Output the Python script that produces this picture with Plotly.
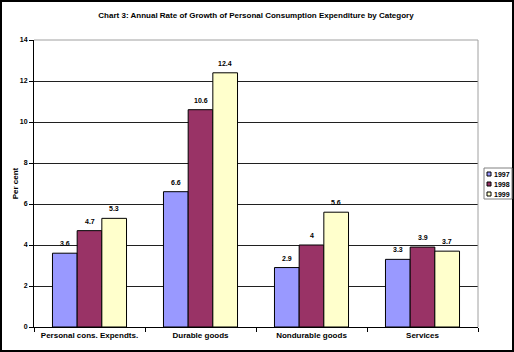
import plotly.graph_objects as go

categories = ["Personal cons. Expendts.", "Durable goods", "Nondurable goods", "Services"]
series_names = ["1997", "1998", "1999"]
values_1997 = [3.6, 6.6, 2.9, 3.3]
values_1998 = [4.7, 10.6, 4.0, 3.9]
values_1999 = [5.3, 12.4, 5.6, 3.7]
labels_1997 = ["3.6", "6.6", "2.9", "3.3"]
labels_1998 = ["4.7", "10.6", "4", "3.9"]
labels_1999 = ["5.3", "12.4", "5.6", "3.7"]
y_ticks = [0, 2, 4, 6, 8, 10, 12, 14]

colors = ["#9999FF", "#993366", "#FFFFCC"]
series = [values_1997, values_1998, values_1999]
labels = [labels_1997, labels_1998, labels_1999]

FONT = "Liberation Sans, Arial, sans-serif"
BARGAP = 0.333

L, R, T, B = 34, 36, 40, 25
W, H = 514, 352
pw, ph = W - L - R, H - T - B
bar_px = pw / len(categories) * (1 - BARGAP) / len(series)

def px_x(x):
    return (x - L) / pw

def px_y(y):
    return (H - B - y) / ph

fig = go.Figure()
annotations = []
for i, (name, vals, lab, col) in enumerate(zip(series_names, series, labels, colors)):
    fig.add_trace(go.Bar(
        name=name, x=categories, y=vals,
        marker=dict(color=col, line=dict(color="black", width=1)),
    ))
    for c, v, t in zip(categories, vals, lab):
        annotations.append(dict(text="<b>" + t + "</b>", x=c, y=v, xref="x", yref="y",
                                xshift=(i - 1) * bar_px, yshift=4,
                                xanchor="center", yanchor="bottom", showarrow=False,
                                font=dict(family=FONT, size=7, color="black")))

shapes = [
    dict(type="line", xref="paper", yref="paper", x0=0, x1=1, y0=1, y1=1,
         line=dict(color="#A0A0A0", width=1)),
    dict(type="line", xref="paper", yref="paper", x0=1, x1=1, y0=0, y1=1,
         line=dict(color="#A0A0A0", width=1)),
    dict(type="rect", xref="paper", yref="paper",
         x0=px_x(1), x1=px_x(W - 1), y0=px_y(H - 1), y1=px_y(1),
         line=dict(color="black", width=2), layer="above"),
    dict(type="rect", xref="paper", yref="paper",
         x0=px_x(484), x1=px_x(512), y0=px_y(199), y1=px_y(168),
         line=dict(color="#808080", width=1), fillcolor="white", layer="above"),
]
row_y = [174, 184, 194]
for name, col, ry in zip(series_names, colors, row_y):
    shapes.append(dict(type="rect", xref="paper", yref="paper",
                       x0=px_x(487), x1=px_x(491), y0=px_y(ry + 2), y1=px_y(ry - 2),
                       line=dict(color="black", width=1), fillcolor=col, layer="above"))
    annotations.append(dict(text="<b>" + name + "</b>", xref="paper", yref="paper",
                            x=px_x(492), y=px_y(ry), xanchor="left", yanchor="middle",
                            showarrow=False, font=dict(family=FONT, size=7, color="black")))

fig.update_layout(
    width=W, height=H,
    margin=dict(l=L, r=R, t=T, b=B, pad=0, autoexpand=False),
    paper_bgcolor="white", plot_bgcolor="white",
    barmode="group", bargap=BARGAP, bargroupgap=0,
    font=dict(family=FONT, size=8, color="black"),
    title=dict(text="<b>Chart 3: Annual Rate of Growth of Personal Consumption Expenditure by Category</b>",
               x=0.5, xanchor="center", xref="paper", y=1 - 15 / H, yanchor="middle",
               font=dict(family=FONT, size=8, color="black")),
    showlegend=False,
    xaxis=dict(showline=True, linecolor="black", linewidth=1, automargin=False,
               ticks="outside", tickson="boundaries", ticklen=4, tickcolor="black",
               tickangle=0,
               tickfont=dict(family=FONT, size=8, color="black", weight="bold"),
               showgrid=False),
    yaxis=dict(range=[0, 14], tickvals=y_ticks, showline=True, linecolor="black", linewidth=1,
               automargin=False,
               ticks="outside", ticklen=4, tickcolor="black",
               tickfont=dict(family=FONT, size=7, color="black", weight="bold"),
               showgrid=True, gridcolor="#202020", gridwidth=1, zeroline=False,
               title=dict(text="<b>Per cent</b>", font=dict(family=FONT, size=8, color="black"),
                          standoff=0)),
    shapes=shapes,
    annotations=annotations,
)

fig.write_html("out.html")
